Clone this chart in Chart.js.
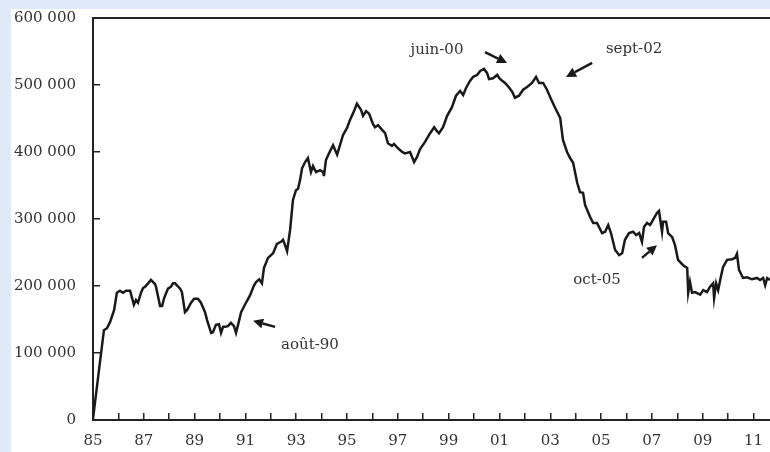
<!DOCTYPE html>
<html>
<head>
<meta charset="utf-8">
<script src="https://cdn.jsdelivr.net/npm/chart.js@4.4.1/dist/chart.umd.min.js"></script>
<style>
  html, body { margin: 0; padding: 0; background: #dfeaf8; }
  #wrap { position: absolute; left: 0; top: 0; width: 770px; height: 452px; }
</style>
</head>
<body>
<div id="wrap"><canvas id="chart" width="770" height="452"></canvas></div>
<script>
// years since 1900 (85 = 1985, 101 = 2001)
const years = [
  85.00, 85.43, 85.55, 85.67, 85.83, 85.94, 86.06, 86.18, 86.30, 86.46,
  86.61, 86.69, 86.77, 86.89, 86.97, 87.05, 87.17, 87.28, 87.44, 87.48,
  87.64, 87.72, 87.80, 87.95, 88.07, 88.15, 88.23, 88.43, 88.50, 88.62,
  88.70, 88.86, 88.98, 89.13, 89.25, 89.41, 89.49, 89.65, 89.72, 89.84,
  89.96, 90.04, 90.12, 90.20, 90.31, 90.43, 90.55, 90.63, 90.71, 90.83,
  90.98, 91.18, 91.34, 91.42, 91.54, 91.65, 91.73, 91.89, 92.09, 92.24,
  92.40, 92.48, 92.56, 92.64, 92.76, 92.87, 92.99, 93.07, 93.15, 93.23,
  93.35, 93.46, 93.58, 93.66, 93.78, 93.94, 94.06, 94.09, 94.17, 94.29,
  94.45, 94.61, 94.72, 94.84, 95.00, 95.12, 95.24, 95.39, 95.55, 95.63,
  95.75, 95.87, 96.02, 96.10, 96.22, 96.38, 96.50, 96.61, 96.77, 96.85,
  96.97, 97.17, 97.28, 97.48, 97.64, 97.76, 97.87, 98.07, 98.27, 98.43,
  98.54, 98.62, 98.78, 98.94, 99.13, 99.29, 99.45, 99.57, 99.69, 99.84,
  99.96, 100.12, 100.24, 100.39, 100.51, 100.59, 100.75, 100.91, 101.02, 101.22,
  101.34, 101.50, 101.61, 101.77, 101.93, 102.09, 102.28, 102.44, 102.56, 102.72,
  102.87, 103.03, 103.19, 103.39, 103.50, 103.66, 103.78, 103.90, 104.06, 104.17,
  104.29, 104.37, 104.57, 104.69, 104.84, 105.04, 105.16, 105.28, 105.39, 105.55,
  105.71, 105.83, 105.94, 106.10, 106.26, 106.38, 106.50, 106.61, 106.69, 106.81,
  106.93, 107.05, 107.20, 107.28, 107.40, 107.44, 107.56, 107.64, 107.80, 107.91,
  108.03, 108.23, 108.39, 108.43, 108.50, 108.58, 108.70, 108.90, 109.02, 109.17,
  109.29, 109.41, 109.45, 109.53, 109.61, 109.69, 109.80, 109.96, 110.16, 110.28,
  110.35, 110.43, 110.59, 110.75, 110.94, 111.14, 111.26, 111.38, 111.46, 111.54,
  111.65
];
const values = [
  2000, 134000, 137000, 146000, 164000, 190000, 193000, 190000, 193000, 193000,
  172000, 179000, 175000, 190000, 197000, 199000, 204000, 209000, 203000, 199000,
  170000, 170000, 182000, 196000, 199000, 204000, 204000, 196000, 191000, 161000,
  164000, 175000, 181000, 181000, 175000, 161000, 149000, 130000, 131000, 142000,
  143000, 130000, 139000, 139000, 140000, 145000, 140000, 130000, 142000, 161000,
  172000, 186000, 201000, 206000, 210000, 204000, 227000, 242000, 249000, 263000,
  266000, 269000, 261000, 252000, 284000, 328000, 343000, 345000, 358000, 376000,
  385000, 391000, 370000, 379000, 370000, 373000, 370000, 364000, 388000, 398000,
  410000, 396000, 410000, 425000, 436000, 448000, 458000, 472000, 463000, 454000,
  461000, 457000, 442000, 437000, 440000, 433000, 428000, 413000, 409000, 412000,
  407000, 400000, 398000, 400000, 385000, 393000, 404000, 415000, 428000, 437000,
  431000, 428000, 437000, 454000, 467000, 484000, 491000, 485000, 496000, 506000,
  512000, 515000, 521000, 524000, 518000, 509000, 510000, 515000, 509000, 503000,
  498000, 490000, 481000, 484000, 493000, 497000, 503000, 512000, 503000, 503000,
  493000, 479000, 466000, 451000, 418000, 400000, 391000, 384000, 354000, 340000,
  339000, 321000, 303000, 294000, 294000, 279000, 281000, 291000, 279000, 254000,
  246000, 249000, 269000, 279000, 281000, 276000, 279000, 266000, 288000, 294000,
  291000, 299000, 309000, 312000, 281000, 296000, 296000, 279000, 273000, 261000,
  239000, 231000, 227000, 190000, 206000, 190000, 191000, 187000, 194000, 191000,
  199000, 204000, 182000, 204000, 194000, 209000, 228000, 239000, 240000, 242000,
  248000, 224000, 212000, 213000, 210000, 212000, 209000, 212000, 201000, 212000,
  209000
];
const xTickLabels = ['85', '87', '89', '91', '93', '95', '97', '99', '01', '03', '05', '07', '09', '11'];
const yTickValues = [0, 100000, 200000, 300000, 400000, 500000, 600000];

// annotations: text centre and arrow (from -> to), in data units
const noteLabels = ['juin-00', 'sept-02', 'oct-05', 'août-90'];
const noteTextX = [98.54, 106.30, 104.84, 93.54];
const noteTextY = [552000, 554000, 209000, 112000];
const arrowFromX = [100.43, 104.65, 106.61, 92.17];
const arrowFromY = [549000, 533000, 242000, 139000];
const arrowToX = [101.30, 103.62, 107.20, 91.30];
const arrowToY = [533000, 512000, 261000, 148000];

const FONT = "'DejaVu Serif', 'Liberation Serif', serif";
const INK = '#333333';

const backgroundPlugin = {
  id: 'backgroundPlugin',
  beforeDraw(chart) {
    const c = chart.ctx;
    c.save();
    c.fillStyle = '#dfeaf8';
    c.fillRect(0, 0, chart.width, chart.height);
    c.fillStyle = '#ffffff';
    c.fillRect(11, 9, chart.width - 11, chart.height - 9);
    c.restore();
  }
};

const framePlugin = {
  id: 'framePlugin',
  afterDraw(chart) {
    const c = chart.ctx;
    const area = chart.chartArea;
    c.save();
    c.strokeStyle = '#222';
    c.lineWidth = 2;
    c.beginPath();
    c.moveTo(area.left - 1, area.top);
    c.lineTo(area.right, area.top);
    c.stroke();
    c.restore();
  }
};

const notesPlugin = {
  id: 'notesPlugin',
  afterDraw(chart) {
    const c = chart.ctx;
    const xs = chart.scales.x;
    const ys = chart.scales.y;
    c.save();
    c.font = '15px ' + FONT;
    c.fillStyle = INK;
    c.textAlign = 'center';
    c.textBaseline = 'middle';
    noteLabels.forEach((label, i) => {
      c.fillText(label, xs.getPixelForValue(noteTextX[i]), ys.getPixelForValue(noteTextY[i]));
    });
    c.strokeStyle = '#1a1a1a';
    c.fillStyle = '#1a1a1a';
    c.lineWidth = 2.5;
    for (let i = 0; i < noteLabels.length; i++) {
      const x1 = xs.getPixelForValue(arrowFromX[i]);
      const y1 = ys.getPixelForValue(arrowFromY[i]);
      const x2 = xs.getPixelForValue(arrowToX[i]);
      const y2 = ys.getPixelForValue(arrowToY[i]);
      const ang = Math.atan2(y2 - y1, x2 - x1);
      const head = 10;
      const bx = x2 - head * Math.cos(ang);
      const by = y2 - head * Math.sin(ang);
      c.beginPath();
      c.moveTo(x1, y1);
      c.lineTo(bx, by);
      c.stroke();
      c.beginPath();
      c.moveTo(x2, y2);
      c.lineTo(bx + 5 * Math.sin(ang), by - 5 * Math.cos(ang));
      c.lineTo(bx - 5 * Math.sin(ang), by + 5 * Math.cos(ang));
      c.closePath();
      c.fill();
    }
    c.restore();
  }
};

const ctx = document.getElementById('chart').getContext('2d');

new Chart(ctx, {
  type: 'line',
  data: {
    datasets: [{
      data: years.map((yr, i) => ({ x: yr, y: values[i] })),
      borderColor: '#1a1a1a',
      borderWidth: 2.5,
      pointRadius: 0,
      tension: 0,
      fill: false
    }]
  },
  options: {
    responsive: false,
    animation: false,
    events: [],
    layout: {
      padding: { left: 0, right: 0, top: 18, bottom: 0 }
    },
    scales: {
      x: {
        type: 'linear',
        min: 85,
        max: 111.65,
        afterFit(scale) {
          scale.height = 32;
          scale.paddingLeft = 0;
          scale.paddingRight = 0;
        },
        border: { display: true, color: '#222', width: 2 },
        grid: {
          drawOnChartArea: false,
          drawTicks: true,
          tickLength: -7,
          color: '#222',
          lineWidth: 1.5
        },
        ticks: {
          stepSize: 1,
          includeBounds: false,
          autoSkip: false,
          maxRotation: 0,
          minRotation: 0,
          padding: 19,
          color: INK,
          font: { family: FONT, size: 15 },
          callback: function (value) {
            const idx = (value - 85) / 2;
            return Number.isInteger(idx) ? xTickLabels[idx] : '';
          }
        }
      },
      y: {
        min: 0,
        max: 600000,
        afterFit(scale) {
          scale.width = 93;
          scale.paddingTop = 0;
          scale.paddingBottom = 0;
        },
        afterBuildTicks(scale) {
          scale.ticks = yTickValues.map(v => ({ value: v }));
        },
        border: { display: true, color: '#222', width: 2 },
        grid: {
          drawOnChartArea: false,
          drawTicks: true,
          tickLength: -7,
          color: '#222',
          lineWidth: 1.5
        },
        ticks: {
          padding: 24,
          color: INK,
          font: { family: FONT, size: 15 },
          callback: function (value) {
            return value === 0 ? '0' : (value / 1000) + ' 000';
          }
        }
      }
    },
    plugins: {
      legend: { display: false },
      tooltip: { enabled: false }
    }
  },
  plugins: [backgroundPlugin, framePlugin, notesPlugin]
});
</script>
</body>
</html>
